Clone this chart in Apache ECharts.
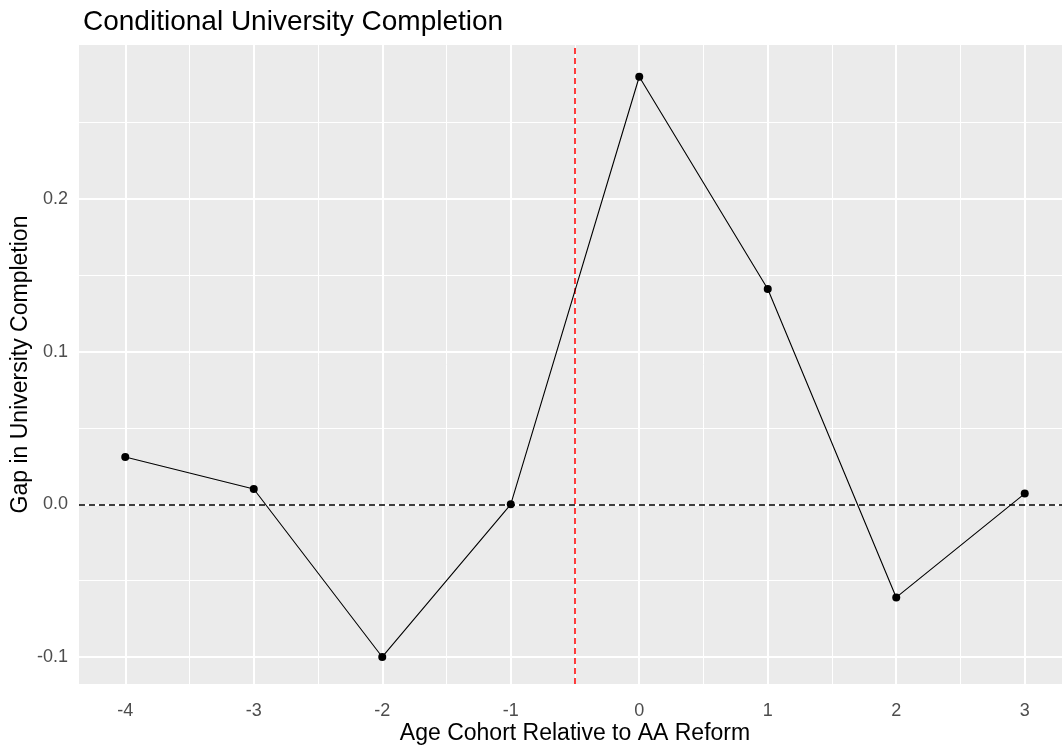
<!DOCTYPE html>
<html>
<head>
<meta charset="utf-8">
<script src="https://cdn.jsdelivr.net/npm/echarts@6/dist/echarts.min.js"></script>
<style>
html,body{margin:0;padding:0;background:#fff;}
#c{width:1062px;height:747px;}
</style>
</head>
<body>
<div id="c"></div>
<script>
// ---- data ----
const cohorts = [-4, -3, -2, -1, 0, 1, 2, 3];
const gap = [0.031, 0.010, -0.100, 0.000, 0.280, 0.141, -0.061, 0.007];
const xTicks = [-4, -3, -2, -1, 0, 1, 2, 3];
const xMinor = [-3.5, -2.5, -1.5, -0.5, 0.5, 1.5, 2.5];
const yTicks = [-0.1, 0.0, 0.1, 0.2];
const yTickLabels = ['-0.1', '0.0', '0.1', '0.2'];
const yMinor = [-0.05, 0.05, 0.15, 0.25];
const reformLine = -0.5;
const zeroLine = 0;
const titleText = 'Conditional University Completion';
const xTitle = 'Age Cohort Relative to AA Reform';
const yTitle = 'Gap in University Completion';

const FONT = '"Liberation Sans", Arial, sans-serif';
const points = cohorts.map((c, i) => [c, gap[i]]);

const gridLines = [];
xMinor.forEach(v => gridLines.push({xAxis: v, lineStyle: {color: '#fff', width: 1, type: 'solid'}}));
yMinor.forEach(v => gridLines.push({yAxis: v, lineStyle: {color: '#fff', width: 1, type: 'solid'}}));
xTicks.forEach(v => gridLines.push({xAxis: v, lineStyle: {color: '#fff', width: 2, type: 'solid'}}));
yTicks.forEach(v => gridLines.push({yAxis: v, lineStyle: {color: '#fff', width: 2, type: 'solid'}}));

const chart = echarts.init(document.getElementById('c'), null, {renderer: 'canvas'});
chart.setOption({
  animation: false,
  backgroundColor: '#fff',
  title: {
    text: titleText, left: 78, top: 3,
    textStyle: {fontFamily: FONT, fontSize: 28, fontWeight: 'normal', color: '#000'}
  },
  grid: {
    left: 79, top: 45, width: 992, height: 639,
    outerBoundsMode: 'none', containLabel: false,
    show: true, backgroundColor: '#EBEBEB', borderWidth: 0
  },
  xAxis: {
    type: 'value', min: -4.36, max: 3.36,
    name: xTitle, nameLocation: 'middle', nameGap: 38, nameMoveOverlap: false,
    nameTextStyle: {fontFamily: FONT, fontSize: 23, color: '#000'},
    axisLine: {show: false},
    splitLine: {show: false},
    axisTick: {show: true, length: 4, lineStyle: {color: '#333', width: 1}, customValues: xTicks},
    axisLabel: {customValues: xTicks, margin: 18, fontFamily: FONT, fontSize: 18, color: '#4D4D4D',
      formatter: v => String(v)}
  },
  yAxis: {
    type: 'value', min: -0.1177, max: 0.3008,
    name: yTitle, nameLocation: 'middle', nameGap: 47, nameRotate: 90, nameMoveOverlap: false,
    nameTextStyle: {fontFamily: FONT, fontSize: 23, color: '#000'},
    axisLine: {show: false},
    splitLine: {show: false},
    axisTick: {show: true, length: 4, lineStyle: {color: '#333', width: 1}, customValues: yTicks},
    axisLabel: {customValues: yTicks, margin: 11, fontFamily: FONT, fontSize: 18, color: '#4D4D4D',
      formatter: v => yTickLabels[yTicks.findIndex(t => Math.abs(t - v) < 1e-9)] ?? v.toFixed(1)}
  },
  series: [
    {
      type: 'line', data: [], z: 1, silent: true,
      markLine: {silent: true, z: 1, symbol: 'none', label: {show: false}, animation: false, data: gridLines}
    },
    {
      type: 'line', data: points, z: 3,
      symbol: 'circle', symbolSize: 8,
      itemStyle: {color: '#000', borderWidth: 0, borderColor: '#000'},
      lineStyle: {color: '#000', width: 1.1},
      markLine: {
        silent: true, z: 2, symbol: 'none', label: {show: false}, animation: false,
        data: [
          {yAxis: zeroLine, lineStyle: {color: '#000', width: 1.5, type: [6, 4]}},
          {xAxis: reformLine, lineStyle: {color: '#FF0000', width: 1.5, type: [6, 4]}}
        ]
      }
    }
  ]
});
</script>
</body>
</html>
